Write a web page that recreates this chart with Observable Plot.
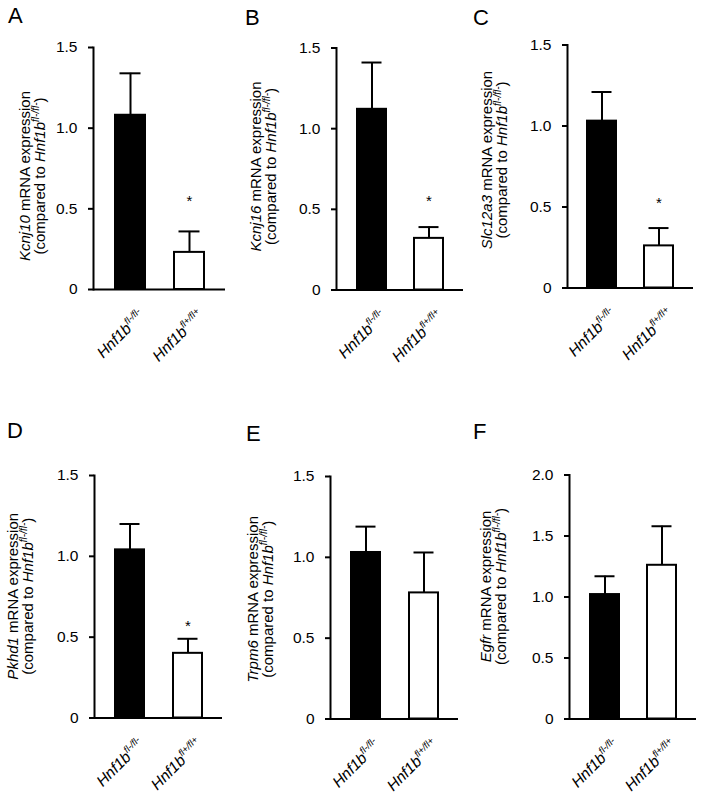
<!DOCTYPE html>
<html><head><meta charset="utf-8">
<script src="https://cdn.jsdelivr.net/npm/d3@7"></script>
<script src="https://cdn.jsdelivr.net/npm/@observablehq/plot@0.6"></script>
<style>
html,body{margin:0;padding:0;background:#fff;}
body{width:704px;height:798px;overflow:hidden;position:relative;font-family:"Liberation Sans",Arial,sans-serif;color:#000;}
.letter{position:absolute;font-size:22px;line-height:24px;}
svg.panel{position:absolute;}
</style></head><body>
<script>
// ---- data ----
const panelLetters = ["A", "B", "C", "D", "E", "F"];
const genes = ["Kcnj10", "Kcnj16", "Slc12a3", "Pkhd1", "Trpm6", "Egfr"];
const groups = ["fl-/fl-", "fl+/fl+"];
const controlMean = [1.08, 1.12, 1.03, 1.04, 1.03, 1.02];
const controlErr = [0.26, 0.29, 0.18, 0.16, 0.16, 0.15];
const knockoutMean = [0.23, 0.32, 0.26, 0.40, 0.78, 1.26];
const knockoutErr = [0.13, 0.07, 0.11, 0.09, 0.25, 0.32];
const yMax = [1.5, 1.5, 1.5, 1.5, 1.5, 2.0];
const yTicks = [
  [0, 0.5, 1, 1.5], [0, 0.5, 1, 1.5], [0, 0.5, 1, 1.5],
  [0, 0.5, 1, 1.5], [0, 0.5, 1, 1.5], [0, 0.5, 1, 1.5, 2]
];
const starValue = [0.57, 0.575, 0.55, 0.59, null, null];

// ---- layout (page pixels) ----
const layout = [
  {axisX: 93,  yTop: 47,  yZero: 289, plotW: 132, row: 0,   lx: 8,   ly: 8,   lab: -63, labShift: 8},
  {axisX: 336, yTop: 47.5,yZero: 289.5,plotW: 127, row: 0,  lx: 245, ly: 10,  lab: -75, labShift: -2},
  {axisX: 567, yTop: 44.5,yZero: 287.5,plotW: 126, row: 0,  lx: 473, ly: 10,  lab: -75, labShift: -6},
  {axisX: 94,  yTop: 475, yZero: 717.5,plotW: 128, row: 400, lx: 7,   ly: 423, lab: -76, labShift: 0},
  {axisX: 330, yTop: 476, yZero: 718.5,plotW: 128, row: 400, lx: 246, ly: 426, lab: -72, labShift: 2},
  {axisX: 569, yTop: 474.5,yZero: 718.5,plotW: 127, row: 400, lx: 473, ly: 424, lab: -78, labShift: -10}
];

const FONT = "Liberation Sans, Arial, sans-serif";

panelLetters.forEach((letter, i) => {
  const L = layout[i];
  const ml = 100, mr = 10, mb = 90;
  const mt = L.yTop - L.row;
  const plotH = L.yZero - L.yTop;
  const width = ml + L.plotW + mr;
  const height = mt + plotH + mb;
  const data = groups.map((g, j) => ({
    group: g,
    mean: j ? knockoutMean[i] : controlMean[i],
    err: j ? knockoutErr[i] : controlErr[i]
  }));
  const stars = starValue[i] == null ? [] : [{group: groups[1], v: starValue[i]}];
  const fmt = d => d === 0 ? "0" : d.toFixed(1);

  const chart = Plot.plot({
    width, height,
    marginLeft: ml, marginRight: mr, marginTop: mt, marginBottom: mb,
    style: {fontFamily: FONT, fontSize: "15px", color: "#000", background: "transparent", overflow: "visible"},
    x: {domain: groups, paddingInner: 0.5, paddingOuter: 0.35},
    y: {domain: [0, yMax[i]]},
    marks: [
      Plot.ruleX(data, {x: "group", y1: "mean", y2: d => d.mean + d.err, stroke: "#000", strokeWidth: 2}),
      Plot.tickY(data, {x: "group", y: d => d.mean + d.err, stroke: "#000", strokeWidth: 2, insetLeft: 4.5, insetRight: 4.5}),
      Plot.barY(data.filter((d, j) => j === 0), {x: "group", y: "mean", fill: "#000", stroke: "#000", strokeWidth: 2}),
      Plot.barY(data.filter((d, j) => j === 1), {x: "group", y: "mean", fill: "#fff", stroke: "#000", strokeWidth: 2}),
      Plot.text(stars, {x: "group", y: "v", text: () => "*", fontSize: 15, dy: 4, fill: "#000"}),
      Plot.ruleY([0], {stroke: "#000", strokeWidth: 2}),
      Plot.frame({anchor: "left", stroke: "#000", strokeWidth: 2}),
      Plot.axisY({ticks: yTicks[i], tickFormat: fmt, tickSize: 5, tickPadding: 11, strokeWidth: 2, fontSize: 15.5, label: null}),
      Plot.axisX({tickSize: 0, tickPadding: 0, tickRotate: -45, textAnchor: "end", lineAnchor: "bottom", dx: 15, dy: 27, fontSize: 15.5, label: null})
    ]
  });
  chart.classList.add("panel");
  chart.style.left = (L.axisX - ml) + "px";
  chart.style.top = L.row + "px";
  document.body.appendChild(chart);

  const svg = d3.select(chart);
  // italic gene symbol with superscript genotype on x tick labels
  svg.selectAll('g[aria-label="x-axis tick label"] text').each(function () {
    const t = d3.select(this);
    const g = t.text();
    t.text(null);
    t.append("tspan").attr("font-style", "italic").text("Hnf1b");
    t.append("tspan").attr("font-style", "italic").attr("font-size", 9.5).attr("dy", -6.5).text(g);
  });

  // two-line y axis label
  const cy = mt + plotH / 2 + L.labShift;
  const x1 = ml + L.lab;
  const t1 = svg.append("text")
    .attr("transform", `translate(${x1},${cy}) rotate(-90)`)
    .attr("text-anchor", "middle").attr("font-size", 15).attr("fill", "#000").attr("font-family", FONT);
  t1.append("tspan").attr("font-style", "italic").text(genes[i]);
  t1.append("tspan").text(" mRNA expression");
  const t2 = svg.append("text")
    .attr("transform", `translate(${x1 + 14.5},${cy}) rotate(-90)`)
    .attr("text-anchor", "middle").attr("font-size", 15).attr("fill", "#000").attr("font-family", FONT);
  t2.append("tspan").text("(compared to ");
  t2.append("tspan").attr("font-style", "italic").text("Hnf1b");
  t2.append("tspan").attr("font-style", "italic").attr("font-size", 10).attr("dy", -6).text(groups[0]);
  t2.append("tspan").attr("dy", 6).text(")");

  const lab = document.createElement("div");
  lab.className = "letter";
  lab.textContent = letter;
  lab.style.left = L.lx + "px";
  lab.style.top = (L.ly - 4) + "px";
  document.body.appendChild(lab);
});
</script>
</body></html>
